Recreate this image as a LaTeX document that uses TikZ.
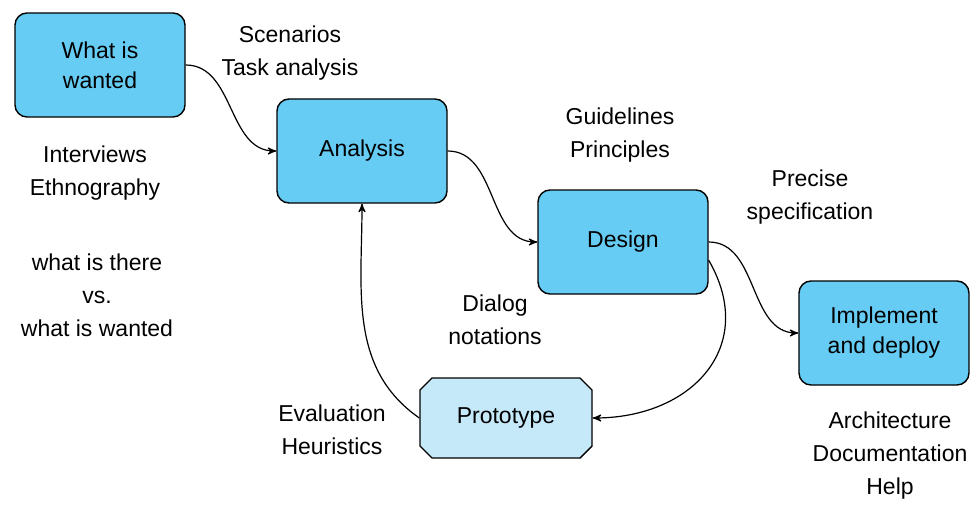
\documentclass[tikz,border=0pt]{standalone}
\usepackage{fontspec}
\setmainfont{Liberation Sans}
\usepackage{tikz}
\usetikzlibrary{arrows, shapes, positioning}
\definecolor{stageblue}{HTML}{66CCF4}
\definecolor{protoblue}{HTML}{C6E9FA}

\begin{document}
\begin{tikzpicture}[->,>=stealth',auto,x=0.5pt,y=-0.5pt,semithick,
         stage/.style={draw,-,line width=0.7pt,rounded corners=6pt,fill=stageblue,
         minimum width=85pt,minimum height=52pt,align=center,
         font=\fontsize{11.5}{15}\selectfont},
         proto/.style={draw,-,line width=0.7pt,chamfered rectangle,
         chamfered rectangle xsep=3pt,chamfered rectangle ysep=3pt,fill=protoblue,
         minimum width=86pt,minimum height=40pt,font=\fontsize{11.5}{15}\selectfont},
         note/.style={align=center,font=\fontsize{11.5}{16.5}\selectfont}]
            \useasboundingbox (0,0) rectangle (974,508);
            % life-cycle stages
            \node [stage] (wanted) at (100,65) {What is\\wanted};
            \node [stage] (analysis) at (362,151) {Analysis};
            \node [stage] (design) at (623,242) {Design};
            \node [stage] (implement) at (884,333) {Implement\\and deploy};
            \node [proto] (prototype) at (506,418) {Prototype};
            % notes
            \node [note] (scenarios) at (290,53) {Scenarios\\Task analysis};
            \node [note] (interviews) at (95,173) {Interviews\\Ethnography};
            \node [note] (there) at (97,295) {what is there\\vs.\\what is wanted};
            \node [note] (guidelines) at (620,135) {Guidelines\\Principles};
            \node [note] (precise) at (810,197) {Precise\\specification};
            \node [note] (dialog) at (495,320) {Dialog\\notations};
            \node [note] (evaluation) at (332,430) {Evaluation\\Heuristics};
            \node [note] (architecture) at (890,456) {Architecture\\Documentation\\Help};
            % flow
            \draw (wanted.east) to[out=0,in=180] (analysis.west);
            \draw (analysis.east) to[out=0,in=180] (design.west);
            \draw (design.east) to[out=0,in=180] (implement.west);
            \draw (design.-12) to[out=-60,in=0,looseness=1.3] (prototype.east);
            \draw (prototype.west) to[out=145,in=-90] (analysis.south);
         \end{tikzpicture}
\end{document}
